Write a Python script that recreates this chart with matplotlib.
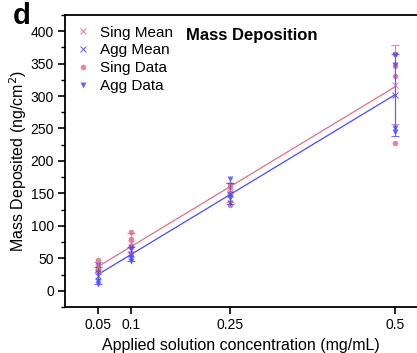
import numpy as np
import matplotlib.pyplot as plt
from matplotlib.lines import Line2D

plt.rcParams['font.family'] = ['Liberation Sans', 'DejaVu Sans']

conc = [0.05, 0.1, 0.25, 0.5]
tick_labels = ['0.05', '0.1', '0.25', '0.5']

# replicate measurements (ng/cm^2) at each concentration
sing_data = [[48, 37, 33, 30],
             [91, 80, 68, 58],
             [165, 160, 150, 132],
             [365, 346, 331, 228]]
agg_data = [[40, 28, 15, 11],
            [68, 65, 50, 46],
            [172, 148, 143, 135],
            [363, 348, 250, 245]]

pink = '#e0708c'
blue = '#4a4aff'

fig = plt.figure(figsize=(4.17, 3.53), dpi=100)
ax = fig.add_axes([0.156, 0.13, 0.844, 0.828])

for data, col, mk in [(sing_data, pink, 'o'), (agg_data, blue, 'v')]:
    xs = np.repeat(conc, [len(d) for d in data])
    ys = np.concatenate(data)
    ax.plot(xs, ys, ls='none', marker=mk, ms=4, color=col, mec='none',
            alpha=0.85, zorder=3)

for data, col in [(sing_data, pink), (agg_data, blue)]:
    means = np.array([np.mean(d) for d in data])
    sds = np.array([np.std(d, ddof=1) for d in data])
    ax.errorbar(conc, means, yerr=sds, fmt='x', ms=5, mew=0.8, color=col,
                ecolor=col, elinewidth=0.8, capsize=3, capthick=0.8,
                alpha=0.8, zorder=4)
    k, b = np.polyfit(conc, means, 1)
    xx = np.array([conc[0], conc[-1]])
    ax.plot(xx, k * xx + b, color=col, lw=0.9, zorder=2)

ax.set_xlim(0, 0.533)
ax.set_ylim(-25, 425)
ax.set_xticks(conc)
ax.set_xticklabels(tick_labels)
ax.set_yticks(np.arange(0, 401, 50))
ax.set_yticks(np.arange(-25, 426, 25), minor=True)
ax.tick_params(axis='both', labelsize=10, width=1.2, length=5, pad=3)
ax.tick_params(axis='y', which='minor', width=1.0, length=3)
for s in ['left', 'bottom', 'top']:
    ax.spines[s].set_linewidth(1.3)
ax.spines['right'].set_visible(False)

ax.set_xlabel('Applied solution concentration (mg/mL)', fontsize=11.5)
ax.set_ylabel('Mass Deposited (ng/cm$^2$)', fontsize=11.5, labelpad=1)
ax.text(0.53, 0.955, 'Mass Deposition', transform=ax.transAxes,
        ha='center', va='top', fontsize=12, fontweight='bold')
fig.text(0.03, 0.995, 'd', ha='left', va='top', fontsize=21,
         fontweight='bold')

handles = [
    Line2D([], [], ls='none', marker='x', ms=5, mew=0.8, color=pink, alpha=0.8),
    Line2D([], [], ls='none', marker='x', ms=5, mew=0.8, color=blue, alpha=0.8),
    Line2D([], [], ls='none', marker='o', ms=4, color=pink, mec='none', alpha=0.85),
    Line2D([], [], ls='none', marker='v', ms=4, color=blue, mec='none', alpha=0.85),
]
ax.legend(handles, ['Sing Mean', 'Agg Mean', 'Sing Data', 'Agg Data'],
          loc='upper left', frameon=False, fontsize=11, handletextpad=0.6,
          labelspacing=0.25, borderaxespad=0.4, handlelength=1.0,
          borderpad=0.3)

fig.savefig('out.png', dpi=100)
